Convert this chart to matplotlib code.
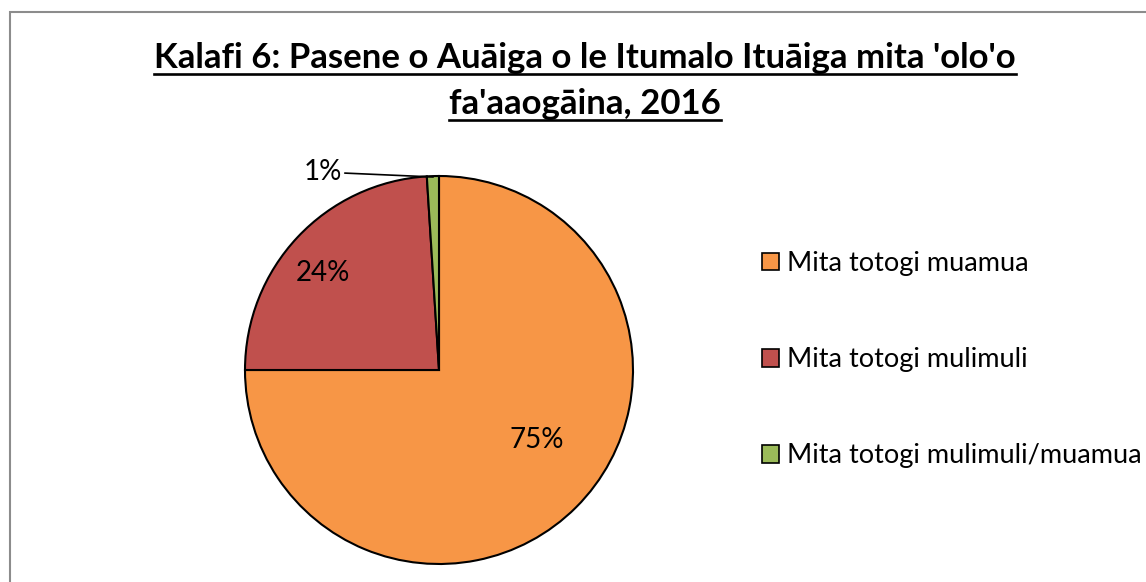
import matplotlib
matplotlib.use('Agg')
import matplotlib.pyplot as plt
from matplotlib.patches import Rectangle, Patch
from matplotlib.lines import Line2D

# datos del grafico
categorias = ['Mita totogi muamua', 'Mita totogi mulimuli', 'Mita totogi mulimuli/muamua']
valores = [75, 24, 1]
colores = ['#F79646', '#C0504D', '#9BBB59']
titulo_1 = "Kalafi 6: Pasene o Auāiga o le Itumalo Ituāiga mita 'olo'o"
titulo_2 = "fa'aaogāina, 2016"

plt.rcParams['font.family'] = ['Lato', 'DejaVu Sans']

W, H = 1146, 582
fig = plt.figure(figsize=(W / 100, H / 100), dpi=100)

# marco gris
fig.patches.append(Rectangle((10 / W, -0.1), 1.2, (H - 12) / H + 0.1,
                             transform=fig.transFigure, fill=False,
                             edgecolor='#8c8c8c', linewidth=1.5))

ax = fig.add_axes([245 / W, (H - 564) / H, 388 / W, 388 / H])
wedges, textos, autotextos = ax.pie(
    valores, colors=colores, startangle=90, counterclock=False,
    autopct='%1.0f%%', radius=1,
    wedgeprops=dict(edgecolor='black', linewidth=1.5),
    textprops=dict(fontsize=20, color='black'))
ax.set_xlim(-1, 1)
ax.set_ylim(-1, 1)

# posiciones de etiquetas como en el original
autotextos[0].set_position((0.505, -0.36))
autotextos[1].set_position((-0.60, 0.50))
autotextos[2].set_visible(False)
ax.annotate('1%', xy=(-0.03, 0.995), xytext=(-0.50, 1.02),
            ha='right', va='center', fontsize=20,
            arrowprops=dict(arrowstyle='-', color='black', lw=1.2,
                            shrinkA=0, shrinkB=0),
            annotation_clip=False)

# leyenda
handles = [Patch(facecolor=c, edgecolor='black', linewidth=1.2) for c in colores]
fig.legend(handles, categorias, loc='upper left',
           bbox_to_anchor=(762 / W, 1 - 251 / H), frameon=False,
           fontsize=19.5, labelspacing=2.63, handlelength=0.64, handleheight=0.64,
           handletextpad=0.3, borderpad=0, borderaxespad=0)

# titulo subrayado
t1 = fig.text(585 / W, 1 - 68 / H, titulo_1, ha='center', va='baseline',
              fontsize=25, fontweight='bold')
t2 = fig.text(585 / W, 1 - 114 / H, titulo_2, ha='center', va='baseline',
              fontsize=25, fontweight='bold')

fig.canvas.draw()
r = fig.canvas.get_renderer()
for t, yb in ((t1, 68), (t2, 114)):
    bb = t.get_window_extent(r)
    y = (H - yb - 6) / H
    fig.add_artist(Line2D([bb.x0 / W, bb.x1 / W], [y, y],
                          transform=fig.transFigure, color='black', lw=1.9))

fig.savefig('out.png', dpi=100)
